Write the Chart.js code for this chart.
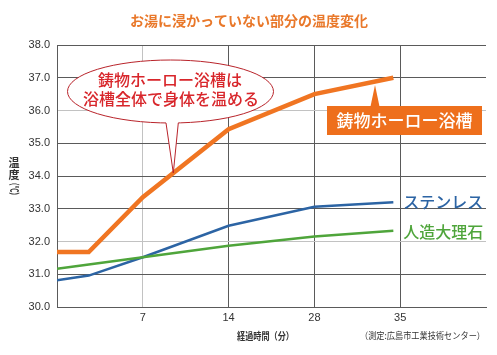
<!DOCTYPE html>
<html><head><meta charset="utf-8">
<script src="https://cdn.jsdelivr.net/npm/chart.js@4"></script>
<style>html,body{margin:0;padding:0;background:#fff;}canvas{display:block}</style>
</head><body>
<canvas id="c" width="497" height="355"></canvas>
<script>
// ---- data ----
const titleText = 'お湯に浸かっていない部分の温度変化';
const yTitleChars = ['温', '度'];
const yTitleUnit = '（℃）';
const xTitleText = '経過時間（分）';
const sourceText = '（測定:広島市工業技術センター）';
const calloutText = '鋳物ホーロー浴槽';
const bubbleLines = ['鋳物ホーロー浴槽は', '浴槽全体で身体を温める'];

// positions along the (unevenly spaced) elapsed-time axis: each tick step is one slot
const xSlots = [0, 0.37, 1, 2, 3, 3.92];
const xTickSlots = [1, 2, 3, 4];
const xTickLabels = ['7', '14', '28', '35'];

const seriesNames = ['人造大理石', 'ステンレス', '鋳物ホーロー浴槽'];
const artificialMarble = [31.17, 31.30, 31.52, 31.87, 32.15, 32.33];
const stainless       = [30.82, 30.96, 31.52, 32.48, 33.06, 33.20];
const castIronEnamel  = [31.68, 31.68, 33.35, 35.43, 36.50, 37.00];

const yMin = 30, yMax = 38, yStep = 1;
const lightYLines = [32, 36];
const lightXLines = [1];

// ---- styles ----
const JP = '"Noto Sans CJK JP", "Noto Sans", sans-serif';
const NUM = '"Liberation Sans", Arial, sans-serif';
const ORANGE = '#f07522', BLUE = '#2c64a4', GREEN = '#4fa53b';
const DARK = '#5a5a5a', LIGHT = '#c2c2c2';

const toPts = arr => arr.map((v, i) => ({x: xSlots[i], y: v}));

const annot = {
  id: 'annot',
  afterDraw(chart) {
    const c = chart.ctx, xs = chart.scales.x, ys = chart.scales.y;
    c.save();
    // title
    c.fillStyle = '#e9782a';
    c.font = 'bold 14px ' + JP;
    c.textAlign = 'center'; c.textBaseline = 'middle';
    c.fillText(titleText, 249, 21);
    // y title (vertical)
    c.fillStyle = '#333';
    c.font = 'bold 11px ' + JP;
    c.fillText(yTitleChars[0], 14, 163);
    c.fillText(yTitleChars[1], 14, 175);
    c.save();
    c.translate(14, 189); c.rotate(Math.PI / 2);
    c.fillText(yTitleUnit, 0, 0, 20);
    c.restore();
    // x title
    c.font = 'bold 10px ' + JP;
    c.fillText(xTitleText, 265.5, 336, 57);
    // source
    c.font = '9px ' + JP;
    c.textAlign = 'right';
    c.fillText(sourceText, 485, 336, 125);

    // series end labels
    const lastI = xSlots.length - 1;
    c.textAlign = 'left';
    c.font = '500 16px ' + JP;
    c.fillStyle = BLUE;
    c.fillText(seriesNames[1], xs.getPixelForValue(xSlots[lastI]) + 10, ys.getPixelForValue(stainless[lastI]));
    c.fillStyle = GREEN;
    c.fillText(seriesNames[0], xs.getPixelForValue(xSlots[lastI]) + 10, ys.getPixelForValue(artificialMarble[lastI]) + 1);

    // orange callout box
    c.fillStyle = '#ee6f1c';
    c.fillRect(327, 106, 155, 29);
    c.beginPath();
    c.moveTo(370.5, 106.5); c.lineTo(375, 85); c.lineTo(379.5, 106.5); c.closePath(); c.fill();
    c.fillStyle = '#fff';
    c.font = '500 17px ' + JP;
    c.textAlign = 'center';
    c.fillText(calloutText, 404.5, 121);

    // speech bubble
    const cx = 170.5, cy = 91.5, rx = 103, ry = 31.5;
    c.beginPath(); c.ellipse(cx, cy, rx, ry, 0, 0, Math.PI * 2);
    c.fillStyle = '#fff'; c.fill();
    c.strokeStyle = '#b8232a'; c.lineWidth = 1; c.stroke();
    const yb = x => cy + ry * Math.sqrt(1 - ((x - cx) / rx) ** 2);
    const tl = 166, tr = 178.3, tip = [173.3, 173];
    c.beginPath();
    c.moveTo(tl, yb(tl) - 4); c.lineTo(tl, yb(tl)); c.lineTo(tip[0], tip[1]);
    c.lineTo(tr, yb(tr)); c.lineTo(tr, yb(tr) - 4); c.closePath();
    c.fill();
    c.beginPath();
    c.moveTo(tl, yb(tl)); c.lineTo(tip[0], tip[1]); c.lineTo(tr, yb(tr));
    c.stroke();
    c.fillStyle = '#d8262b';
    c.font = '500 16px ' + JP;
    c.fillText(bubbleLines[0], 170, 80);
    c.fillText(bubbleLines[1], 171, 99);
    c.restore();
  }
};

new Chart(document.getElementById('c'), {
  type: 'line',
  data: {
    datasets: [
      {label: seriesNames[0], data: toPts(artificialMarble), borderColor: GREEN, borderWidth: 2.5, pointRadius: 0, tension: 0},
      {label: seriesNames[1], data: toPts(stainless), borderColor: BLUE, borderWidth: 2.5, pointRadius: 0, tension: 0},
      {label: seriesNames[2], data: toPts(castIronEnamel), borderColor: ORANGE, borderWidth: 4.5, pointRadius: 0, tension: 0}
    ]
  },
  options: {
    responsive: false,
    animation: false,
    layout: {padding: {top: 45, right: 11, left: 0, bottom: 0}},
    plugins: {legend: {display: false}, tooltip: {enabled: false}},
    scales: {
      x: {
        type: 'linear', min: 0, max: 5,
        afterBuildTicks: s => { s.ticks = xTickSlots.map(v => ({value: v})); },
        afterFit: s => { s.height = 48; },
        ticks: {
          callback: v => xTickLabels[xTickSlots.indexOf(v)],
          font: {family: NUM, size: 11}, color: '#333', padding: 4,
          maxRotation: 0, autoSkip: false
        },
        grid: {color: c => (c.tick && lightXLines.includes(c.tick.value)) ? LIGHT : DARK, lineWidth: 1, drawTicks: false},
        border: {color: DARK, width: 1}
      },
      y: {
        min: yMin, max: yMax,
        afterFit: s => { s.width = 57; },
        ticks: {
          stepSize: yStep,
          callback: v => v.toFixed(1),
          font: {family: NUM, size: 11}, color: '#333', padding: 7
        },
        grid: {color: c => (c.tick && lightYLines.includes(c.tick.value)) ? LIGHT : DARK, lineWidth: 1, drawTicks: false},
        border: {color: DARK, width: 1}
      }
    }
  },
  plugins: [annot]
});
</script>
</body></html>
